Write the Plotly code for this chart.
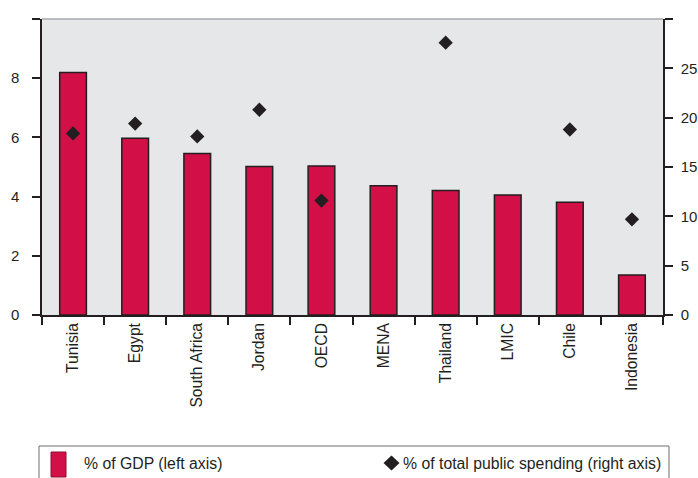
import plotly.graph_objects as go

# Categories and series
countries = ["Tunisia", "Egypt", "South Africa", "Jordan", "OECD",
             "MENA", "Thailand", "LMIC", "Chile", "Indonesia"]
pct_gdp = [8.19, 5.97, 5.46, 5.02, 5.03, 4.37, 4.21, 4.05, 3.81, 1.35]
pct_spending = [18.4, 19.4, 18.1, 20.8, 11.6, None, 27.6, None, 18.8, 9.7]

left_ticks = [0, 2, 4, 6, 8, 10]
left_labels = ["0", "2", "4", "6", "8", ""]
right_ticks = [0, 5, 10, 15, 20, 25, 30]
right_labels = ["0", "5", "10", "15", "20", "25", ""]

legend_labels = ["% of GDP (left axis)", "% of total public spending (right axis)"]

RED = "#d20f46"
INK = "#231f20"
FONT = "Liberation Sans, Arial, sans-serif"

W, H = 698, 478
ML, MR, MT, MB = 42, 35, 19, 163
PW, PH = W - ML - MR, H - MT - MB


def px_x(x):
    return (x - ML) / PW


def px_y(y):
    return (H - MB - y) / PH


fig = go.Figure()
fig.add_trace(go.Bar(
    x=countries, y=pct_gdp, width=0.43,
    marker=dict(color=RED, line=dict(color=INK, width=1.5)),
    name=legend_labels[0], showlegend=False,
))
fig.add_trace(go.Scatter(
    x=countries, y=pct_spending, yaxis="y2", mode="markers",
    marker=dict(symbol="diamond", size=11, color=INK),
    name=legend_labels[1], showlegend=False,
))

axis_font = dict(family=FONT, size=15, color=INK)

fig.update_layout(
    width=W, height=H,
    margin=dict(l=ML, r=MR, t=MT, b=MB, pad=0, autoexpand=False),
    paper_bgcolor="white",
    plot_bgcolor="#e6e7e9",
    font=dict(family=FONT, color=INK),
    xaxis=dict(
        type="category", showgrid=False, showline=True, linecolor=INK, linewidth=1.5,
        ticks="outside", tickson="boundaries", ticklen=8, tickcolor=INK, tickwidth=1.5,
        tickangle=-90, tickfont=dict(family=FONT, size=15.7, color=INK),
        range=[-0.5, len(countries) - 0.5], automargin=False,
    ),
    yaxis=dict(
        range=[0, 10], tickvals=left_ticks, ticktext=left_labels,
        showgrid=False, zeroline=False, showline=True, linecolor=INK, linewidth=1.5,
        ticks="outside", ticklen=8, tickcolor=INK, tickwidth=1.5,
        tickfont=axis_font, ticklabelstandoff=10, automargin=False,
    ),
    yaxis2=dict(
        range=[0, 30], tickvals=right_ticks, ticktext=right_labels,
        overlaying="y", side="right",
        showgrid=False, zeroline=False, showline=True, linecolor=INK, linewidth=1.5,
        ticks="outside", ticklen=8, tickcolor=INK, tickwidth=1.5,
        tickfont=axis_font, ticklabelstandoff=5, automargin=False,
    ),
    showlegend=False,
)

shapes = []
# thin border along the top of the plot area
shapes.append(dict(type="line", xref="paper", yref="paper", x0=0, x1=1, y0=1, y1=1,
                   line=dict(color="#a7a9ac", width=1.5)))
# legend frame (open at the bottom edge)
lx0, lx1, ly0, ly1 = px_x(39), px_x(669), px_y(446), px_y(490)
shapes.append(dict(type="path", xref="paper", yref="paper",
                   path=f"M {lx0} {ly1} L {lx0} {ly0} L {lx1} {ly0} L {lx1} {ly1}",
                   line=dict(color="#6d6e71", width=1)))
# bar swatch
shapes.append(dict(type="rect", xref="paper", yref="paper",
                   x0=px_x(51), x1=px_x(66), y0=px_y(452), y1=px_y(477),
                   fillcolor=RED, line=dict(color="#8a1030", width=1)))
# diamond swatch
cx, cy, hw, hh = 391.5, 463, 8, 7.5
shapes.append(dict(type="path", xref="paper", yref="paper",
                   path=(f"M {px_x(cx - hw)} {px_y(cy)} L {px_x(cx)} {px_y(cy - hh)} "
                         f"L {px_x(cx + hw)} {px_y(cy)} L {px_x(cx)} {px_y(cy + hh)} Z"),
                   fillcolor=INK, line=dict(width=0)))
fig.update_layout(shapes=shapes)

legend_font = dict(family=FONT, size=15.8, color=INK)
fig.add_annotation(x=px_x(82), y=px_y(463), xref="paper", yref="paper",
                   text=legend_labels[0], showarrow=False,
                   xanchor="left", yanchor="middle", font=legend_font)
fig.add_annotation(x=px_x(401), y=px_y(463), xref="paper", yref="paper",
                   text=legend_labels[1], showarrow=False,
                   xanchor="left", yanchor="middle", font=legend_font)

fig.write_html("out.html")
